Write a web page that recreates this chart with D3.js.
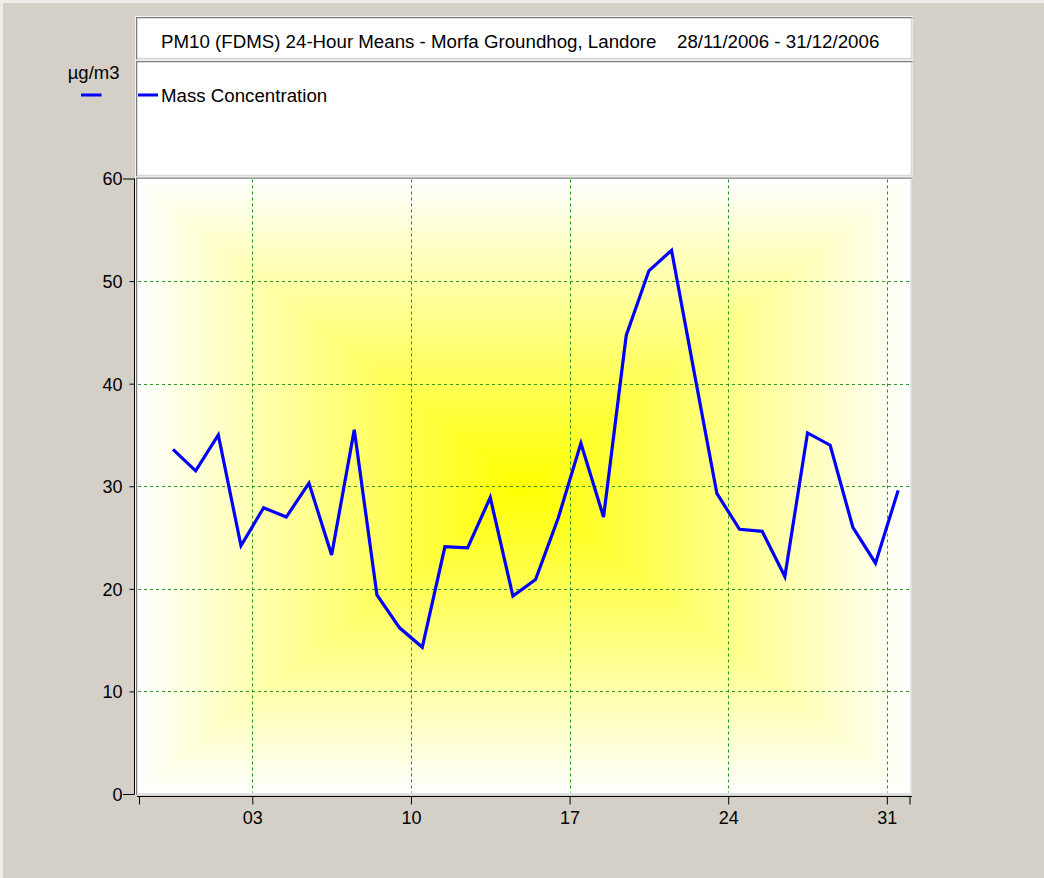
<!DOCTYPE html>
<html>
<head>
<meta charset="utf-8">
<script src="https://cdn.jsdelivr.net/npm/d3@7"></script>
<style>
  body { margin: 0; background: #d4d0c8; }
  svg { display: block; font-family: "Liberation Sans", Arial, sans-serif; }
</style>
</head>
<body>
<script>
// daily means, one per day (plotted at midday)
var days = ["2006-11-29","2006-11-30","2006-12-01","2006-12-02","2006-12-03","2006-12-04",
            "2006-12-05","2006-12-06","2006-12-07","2006-12-08","2006-12-09","2006-12-10",
            "2006-12-11","2006-12-12","2006-12-13","2006-12-14","2006-12-15","2006-12-16",
            "2006-12-17","2006-12-18","2006-12-19","2006-12-20","2006-12-21","2006-12-22",
            "2006-12-23","2006-12-24","2006-12-25","2006-12-26","2006-12-27","2006-12-28",
            "2006-12-29","2006-12-30","2006-12-31"];
var massConc = [33.6, 31.5, 35.0, 24.2, 27.9, 27.0,
                30.3, 23.3, 35.5, 19.4, 16.2, 14.3,
                24.1, 24.0, 28.9, 19.3, 20.9, 26.9,
                34.2, 27.0, 44.7, 51.0, 53.0, 41.1,
                29.3, 25.8, 25.6, 21.2, 35.2, 34.0,
                26.0, 22.5, 29.6];
var yTicks = [0, 10, 20, 30, 40, 50, 60];
var xTickDays = ["2006-12-03","2006-12-10","2006-12-17","2006-12-24","2006-12-31"];
var xDomain = ["2006-11-28", "2007-01-01"];

var titleText = "PM10 (FDMS) 24-Hour Means - Morfa Groundhog, Landore";
var dateText = "28/11/2006 - 31/12/2006";
var unitText = "\u00b5g/m3";
var seriesName = "Mass Concentration";

var w = 1044, h = 878;
var parse = d3.utcParse("%Y-%m-%d");

//plot box
var px0 = 137, px1 = 911, py0 = 178.5, py1 = 794.5;

var x = d3.scaleUtc()
    .domain(xDomain.map(parse))
    .range([139, 909.5]);
var y = d3.scaleLinear()
    .domain([0, 60])
    .range([794, 178.5]);

var svg = d3.select("body")
    .append("svg")
    .attr("width", w)
    .attr("height", h);

svg.append("rect").attr("width", w).attr("height", h).attr("fill", "#d4d0c8");
//light edge top / left
svg.append("rect").attr("width", w).attr("height", 3).attr("fill", "#efedea");
svg.append("rect").attr("width", 3).attr("height", h).attr("fill", "#efedea");

//sunken box helper
function box(x0, y0, x1, y1) {
  svg.append("rect").attr("x", x0).attr("y", y0).attr("width", x1 - x0).attr("height", y1 - y0)
     .attr("fill", "white");
  svg.append("path").attr("d", "M" + x0 + "," + y1 + "V" + y0 + "H" + x1)
     .attr("fill", "none").attr("stroke", "#7a7a7a").attr("stroke-width", 1.5);
  svg.append("path").attr("d", "M" + (x0 + 1.5) + "," + (y1 - 1) + "H" + (x1 - 1) + "V" + (y0 + 1.5))
     .attr("fill", "none").attr("stroke", "#d8d8d8").attr("stroke-width", 1.5);
  svg.append("path").attr("d", "M" + (x0 - 1) + "," + (y1 + 0.5) + "V" + (y0 - 1) + "H" + (x1 + 0.5))
     .attr("fill", "none").attr("stroke", "#f4f4f4").attr("stroke-width", 1);
}

box(136.5, 17.5, 912.5, 59.5);
box(136.5, 61.5, 912.5, 176.5);
box(136.5, 178, 912, 795);

//background gradient (rectangular, yellow centre fading to white edges)
var defs = svg.append("defs");
var cx = (px0 + px1) / 2, cy = (py0 + py1) / 2;
function lin(id, x1, y1, x2, y2) {
  var g = defs.append("linearGradient").attr("id", id)
      .attr("gradientUnits", "userSpaceOnUse")
      .attr("x1", x1).attr("y1", y1).attr("x2", x2).attr("y2", y2);
  g.append("stop").attr("offset", 0).attr("stop-color", "#ffffff");
  g.append("stop").attr("offset", 0.5).attr("stop-color", "#ffff00");
  g.append("stop").attr("offset", 1).attr("stop-color", "#ffffff");
}
lin("gv", 0, py0 + 1, 0, py1 - 2);
lin("gh", px0 + 1, 0, px1 - 2, 0);

svg.append("rect")
    .attr("x", px0 + 1).attr("y", py0 + 1)
    .attr("width", px1 - px0 - 3).attr("height", py1 - py0 - 3)
    .attr("fill", "url(#gv)");
var xa = px0 + 1, xb = px1 - 2, ya = py0 + 1, yb = py1 - 2;
svg.append("path")
    .attr("d", "M" + xa + "," + ya + "L" + cx + "," + cy + "L" + xa + "," + yb + "Z" +
               "M" + xb + "," + ya + "L" + cx + "," + cy + "L" + xb + "," + yb + "Z")
    .attr("fill", "url(#gh)");

//grid
svg.append("g")
    .selectAll("line")
    .data(yTicks.slice(1, -1))
    .enter()
    .append("line")
    .attr("x1", px0 + 1).attr("x2", px1 - 2)
    .attr("y1", function(d) { return Math.round(y(d)) + 0.5; })
    .attr("y2", function(d) { return Math.round(y(d)) + 0.5; })
    .attr("stroke", "#2a9a2a").attr("stroke-width", 1).attr("stroke-dasharray", "3,3");

svg.append("g")
    .selectAll("line")
    .data(xTickDays)
    .enter()
    .append("line")
    .attr("x1", function(d) { return Math.round(x(parse(d))) + 0.5; })
    .attr("x2", function(d) { return Math.round(x(parse(d))) + 0.5; })
    .attr("y1", py0 + 1).attr("y2", py1 - 2)
    .attr("stroke", "#1f951f").attr("stroke-width", 1).attr("stroke-dasharray", "3,3");

//line
var points = days.map(function(d, i) {
  return { t: d3.utcHour.offset(parse(d), 12), v: massConc[i] };
});
var line = d3.line()
    .x(function(d) { return x(d.t); })
    .y(function(d) { return y(d.v); });

svg.append("path")
    .datum(points)
    .attr("d", line)
    .attr("fill", "none")
    .attr("stroke", "#0000ff")
    .attr("stroke-width", 3.2)
    .attr("stroke-linejoin", "miter");

//y axis
var yAxis = d3.axisLeft(y).tickValues(yTicks).tickSize(5).tickPadding(7).tickFormat(d3.format("d"));
var gy = svg.append("g")
    .attr("transform", "translate(134.5,0)")
    .call(yAxis)
    .attr("font-size", null)
    .attr("font-family", null);
gy.select(".domain").remove();
gy.append("line").attr("x1", 0).attr("x2", 0).attr("y1", y(60)).attr("y2", y(0) + 0.5)
    .attr("stroke", "#000");
gy.selectAll(".tick line").attr("stroke", "#000")
    .attr("x2", function(d) { return (d === 0 || d === 60) ? -11.5 : -5; });
gy.selectAll(".tick text")
    .attr("fill", "#000")
    .style("font-size", "18px")
    .attr("dy", "0.36em")
    .attr("x", -12);

//x axis
var xTicks = [parse(xDomain[0])].concat(xTickDays.map(parse)).concat([parse(xDomain[1])]);
var xAxis = d3.axisBottom(x).tickValues(xTicks).tickSize(8).tickSizeOuter(0)
    .tickFormat(function(d, i) { return (i === 0 || i === xTicks.length - 1) ? "" : d3.utcFormat("%d")(d); });
var gx = svg.append("g")
    .attr("transform", "translate(0,796.5)")
    .call(xAxis)
    .attr("font-size", null)
    .attr("font-family", null);
gx.select(".domain").remove();
gx.append("line").attr("x1", 137).attr("x2", 912).attr("y1", 0).attr("y2", 0).attr("stroke", "#000");
gx.selectAll(".tick line").attr("stroke", "#000");
gx.selectAll(".tick text")
    .attr("fill", "#000")
    .style("font-size", "18px")
    .attr("y", 27.5)
    .attr("dy", 0);

//title
svg.append("text")
    .text(titleText)
    .attr("x", 161).attr("y", 47.5)
    .attr("font-size", "18.7px").attr("fill", "#000");
svg.append("text")
    .text(dateText)
    .attr("x", 677).attr("y", 47.5)
    .attr("font-size", "18.7px").attr("fill", "#000");

//legend
svg.append("text")
    .text(unitText)
    .attr("x", 119.5).attr("y", 78.5)
    .attr("text-anchor", "end")
    .attr("font-size", "18.5px").attr("fill", "#000");
svg.append("line").attr("x1", 81).attr("x2", 101.5).attr("y1", 95).attr("y2", 95)
    .attr("stroke", "#0000ff").attr("stroke-width", 3);
svg.append("line").attr("x1", 138).attr("x2", 158).attr("y1", 95).attr("y2", 95)
    .attr("stroke", "#0000ff").attr("stroke-width", 3);
svg.append("text")
    .text(seriesName)
    .attr("x", 161).attr("y", 101.5)
    .attr("font-size", "18.7px").attr("fill", "#000");
</script>
</body>
</html>
